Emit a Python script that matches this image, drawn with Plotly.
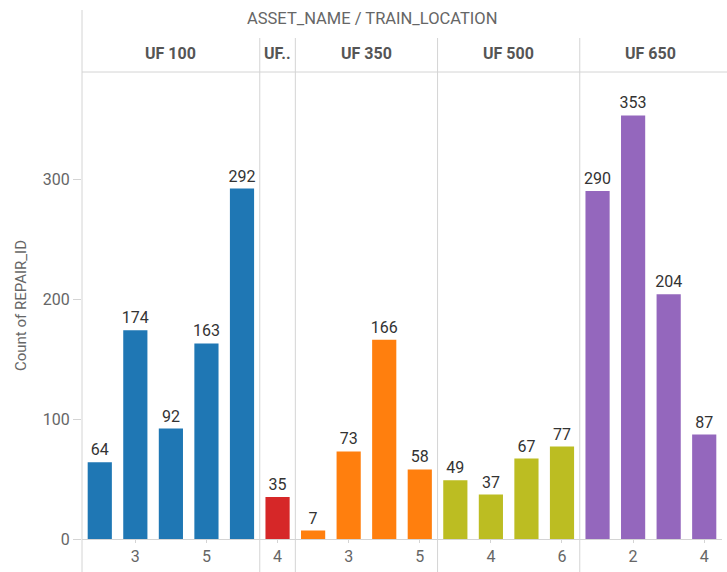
import plotly.graph_objects as go
from plotly.subplots import make_subplots

assets = ["UF 100", "UF..", "UF 350", "UF 500", "UF 650"]
locations = [[2, 3, 4, 5, 6], [4], [2, 3, 4, 5], [3, 4, 5, 6], [1, 2, 3, 4]]
counts = [[64, 174, 92, 163, 292], [35], [7, 73, 166, 58], [49, 37, 67, 77], [290, 353, 204, 87]]
tick_labels = [[3, 5], [4], [3, 5], [4, 6], [2, 4]]
colors = ["#1f77b4", "#d62728", "#ff7f0e", "#bcbd22", "#9467bd"]
y_ticks = [0, 100, 200, 300]

FONT = "Roboto"
W, H = 727, 572
ML, MR, MT, MB = 82, 5, 72, 33
PW, PH = W - ML - MR, H - MT - MB
sep = "#d4d4d4"

fig = make_subplots(rows=1, cols=len(assets), shared_yaxes=True,
                    column_widths=[len(l) for l in locations], horizontal_spacing=0)

for i, (a, locs, vals, c) in enumerate(zip(assets, locations, counts, colors)):
    fig.add_trace(go.Bar(
        x=[str(v) for v in locs], y=vals, marker_color=c, marker_line_width=0,
        text=[str(v) for v in vals], textposition="outside", cliponaxis=False,
        constraintext="none",
        textfont=dict(family=FONT, size=16, color="#333333"), showlegend=False,
        name=a), row=1, col=i + 1)
    fig.update_xaxes(row=1, col=i + 1, type="category",
                     categoryorder="array", categoryarray=[str(v) for v in locs],
                     tickmode="array", tickvals=[str(v) for v in tick_labels[i]],
                     ticks="outside", ticklen=3, tickcolor=sep,
                     showline=True, linecolor=sep, linewidth=1,
                     showgrid=False, zeroline=False,
                     tickfont=dict(family=FONT, size=16, color="#666666"))
    xr = "x domain" if i == 0 else f"x{i + 1} domain"
    fig.add_annotation(text=a, xref=xr, x=0.5, yref="paper", y=1 + 18 / PH,
                       showarrow=False, yanchor="middle",
                       font=dict(family=FONT, size=16, color="#555555", weight="bold"))
    if i > 0:
        fig.add_shape(type="line", xref=xr, x0=0, x1=0, yref="paper",
                      y0=-MB / PH, y1=1 + 34 / PH, line=dict(color=sep, width=1))

fig.add_shape(type="line", xref="paper", x0=0, x1=0, yref="paper",
              y0=-MB / PH, y1=1 + 62 / PH, line=dict(color=sep, width=1))
fig.add_shape(type="line", xref="paper", x0=0, x1=1 + MR / PW, yref="paper",
              y0=1, y1=1, line=dict(color=sep, width=1))

fig.add_annotation(text="ASSET_NAME / TRAIN_LOCATION", xref="paper", x=(372 - ML) / PW,
                   yref="paper", y=1 + 54 / PH, showarrow=False, yanchor="middle",
                   font=dict(family=FONT, size=16.5, color="#666666"))

fig.update_yaxes(range=[0, PH / 1.2], tickmode="array", tickvals=y_ticks,
                 showgrid=False, zeroline=False, showline=False)
fig.update_yaxes(row=1, col=1, ticks="outside", ticklen=8, tickcolor=sep,
                 tickfont=dict(family=FONT, size=16, color="#666666"),
                 title=dict(text="Count of REPAIR_ID", standoff=12,
                            font=dict(family=FONT, size=15, color="#666666")))

fig.update_layout(width=W, height=H, margin=dict(l=ML, r=MR, t=MT, b=MB),
                  paper_bgcolor="white", plot_bgcolor="white", bargap=0.32)

fig.write_html("out.html", config={"displayModeBar": False},
               post_script="document.body.style.margin='0px';")
